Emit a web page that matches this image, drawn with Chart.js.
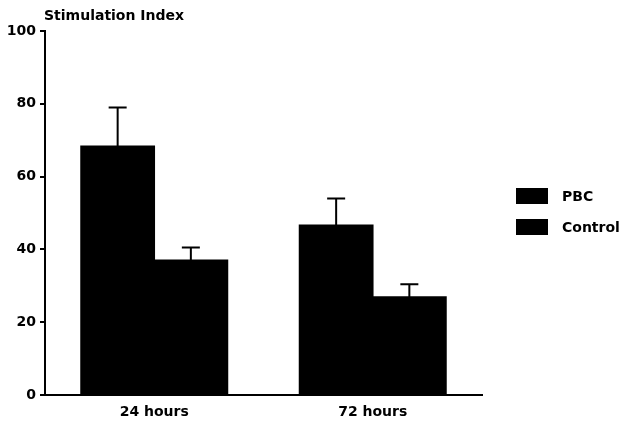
<!DOCTYPE html>
<html>
<head>
<meta charset="utf-8">
<script src="https://cdn.jsdelivr.net/npm/chart.js@4/dist/chart.umd.min.js"></script>
<style>
  html, body { margin: 0; padding: 0; background: #fff; }
  #wrap { width: 624px; height: 423px; position: relative; }
</style>
</head>
<body>
<div id="wrap"><canvas id="c" width="624" height="423"></canvas></div>
<script>
// Stimulation index of lymphocytes, PBC patients vs controls
const categories = ['24 hours', '72 hours'];
const seriesNames = ['PBC', 'Control'];
const pbcValues = [68.3, 46.6];
const pbcErrors = [10.7, 7.4];
const controlValues = [37.0, 26.9];
const controlErrors = [3.5, 3.5];
const yTicks = [0, 20, 40, 60, 80, 100];
const yTitle = 'Stimulation Index';

const FONT = '"DejaVu Sans", Arial, sans-serif';

// Error bars (upper half only) drawn from each dataset's values
const errorBars = {
  id: 'errorBars',
  afterDatasetsDraw(chart) {
    const ctx = chart.ctx;
    const y = chart.scales.y;
    ctx.save();
    ctx.strokeStyle = '#000';
    ctx.lineWidth = 2;
    chart.data.datasets.forEach((ds, di) => {
      const meta = chart.getDatasetMeta(di);
      meta.data.forEach((bar, i) => {
        const top = y.getPixelForValue(ds.data[i] + ds.errors[i]);
        const x = bar.x;
        ctx.beginPath();
        ctx.moveTo(x, bar.y);
        ctx.lineTo(x, top);
        ctx.moveTo(x - 9, top);
        ctx.lineTo(x + 9, top);
        ctx.stroke();
      });
    });
    ctx.restore();
  }
};

// Axis title above the y axis and legend at the right
const decorations = {
  id: 'decorations',
  afterDraw(chart) {
    const ctx = chart.ctx;
    const area = chart.chartArea;
    ctx.save();
    ctx.fillStyle = '#000';
    ctx.font = 'bold 14px ' + FONT;
    ctx.textBaseline = 'middle';
    ctx.textAlign = 'left';
    ctx.fillText(yTitle, area.left - 1, 16);

    const lx = 516, ly0 = 188, boxW = 32, boxH = 16, gap = 31;
    chart.data.datasets.forEach((ds, i) => {
      const yy = ly0 + i * gap;
      ctx.fillStyle = ds.backgroundColor;
      ctx.fillRect(lx, yy, boxW, boxH);
      ctx.fillStyle = '#000';
      ctx.font = 'bold 14px ' + FONT;
      ctx.fillText(ds.label, 562, yy + boxH / 2 + 1);
    });
    ctx.restore();
  }
};

new Chart(document.getElementById('c'), {
  type: 'bar',
  data: {
    labels: categories,
    datasets: [
      { label: seriesNames[0], data: pbcValues, errors: pbcErrors, backgroundColor: '#000' },
      { label: seriesNames[1], data: controlValues, errors: controlErrors, backgroundColor: '#000' }
    ]
  },
  options: {
    responsive: false,
    animation: false,
    devicePixelRatio: 1,
    layout: { padding: { left: 0, top: 31, right: 142, bottom: 0 } },
    datasets: { bar: { categoryPercentage: 0.67, barPercentage: 1.0, borderWidth: 0, inflateAmount: 0.8 } },
    plugins: { legend: { display: false }, tooltip: { enabled: false } },
    scales: {
      x: {
        grid: { display: false, drawTicks: false },
        border: { display: true, color: '#000', width: 2 },
        ticks: { color: '#000', font: { family: FONT, size: 14, weight: 'bold' }, padding: 9 },
        afterFit(scale) { scale.height = 28; }
      },
      y: {
        min: 0,
        max: 100,
        afterBuildTicks(scale) { scale.ticks = yTicks.map(v => ({ value: v })); },
        grid: { drawOnChartArea: false, drawTicks: true, tickLength: 5, color: '#000', lineWidth: 2 },
        border: { display: true, color: '#000', width: 2 },
        ticks: { color: '#000', font: { family: FONT, size: 14, weight: 'bold' }, padding: 4 },
        afterFit(scale) { scale.width = 45; }
      }
    }
  },
  plugins: [errorBars, decorations]
});
</script>
</body>
</html>
